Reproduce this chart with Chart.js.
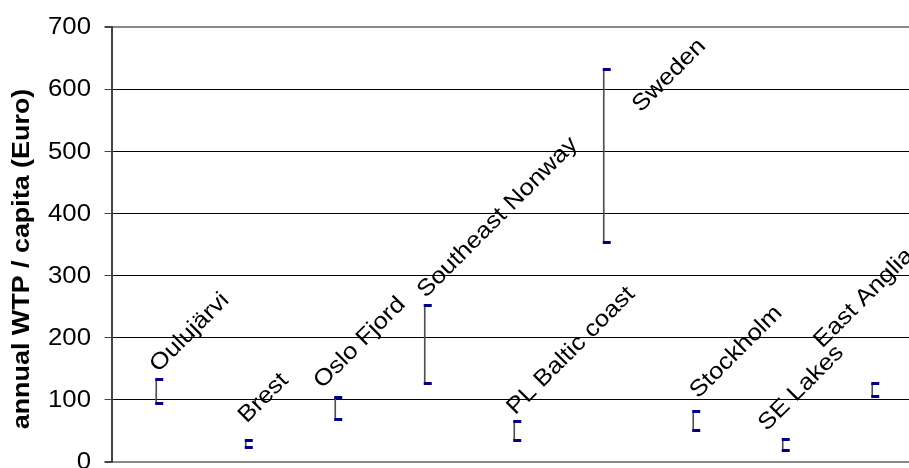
<!DOCTYPE html>
<html lang="en">
<head>
    <meta charset="UTF-8">
    <title>annual WTP / capita</title>
    <script src="https://cdn.jsdelivr.net/npm/chart.js"></script>
    <style>
        html, body { margin: 0; padding: 0; overflow: hidden; background: #fff; }
        #wrap { position: relative; width: 922px; height: 468px; }
    </style>
</head>
<body>
<div id="wrap"><canvas id="wtpChart"></canvas></div>
<script>
    // values (Euro per capita per year)
    const places = ["Oulujärvi", "Brest", "Oslo Fjord", "Southeast Nonway", "PL Baltic coast",
                    "Sweden", "Stockholm", "SE Lakes", "East Anglia"];
    const wtpHigh = [132, 34, 104, 252, 65, 631, 82, 36, 126];
    const wtpLow  = [94, 24, 69, 126, 34, 353, 50, 18, 105];
    const yMin = 0, yMax = 700, yStep = 100;
    const yTitle = "annual WTP / capita (Euro)";

    // label shifts from the top of each range, as placed in the original
    const labelShift = [[2, -7], [1, -17], [-13, -8], [1, -7], [1, -6],
                        [37, 43], [5, -12], [-16, -8], [-50, -35]];

    const FONT = '"Liberation Sans", Arial, sans-serif';
    const STRETCH = 1.12;

    // small end mark sitting to the right of the range line
    const endMark = document.createElement('canvas');
    endMark.width = 18; endMark.height = 3;
    const em = endMark.getContext('2d');
    em.fillStyle = '#000080';
    em.fillRect(8, 0, 8, 3);

    function stretchedText(ctx, text, x, y, angle, font, align, baseline) {
        ctx.save();
        ctx.translate(x, y);
        ctx.rotate(angle);
        ctx.scale(STRETCH, 1);
        ctx.font = font;
        ctx.fillStyle = '#000';
        ctx.textAlign = align;
        ctx.textBaseline = baseline;
        ctx.fillText(text, 0, 0);
        ctx.restore();
    }

    const textPlugin = {
        id: 'texts',
        afterDraw(chart) {
            const ctx = chart.ctx;
            const xs = chart.scales.x, ys = chart.scales.y;
            // y tick labels
            ys.ticks.forEach(t => {
                stretchedText(ctx, String(t.value), 91, ys.getPixelForValue(t.value) + 1, 0,
                              '23px ' + FONT, 'right', 'middle');
            });
            // axis title
            stretchedText(ctx, yTitle, 22, 259, -Math.PI / 2, 'bold 24px ' + FONT, 'center', 'middle');
            // place names
            places.forEach((name, i) => {
                const x = xs.getPixelForValue(i) + labelShift[i][0];
                const y = ys.getPixelForValue(wtpHigh[i]) + labelShift[i][1];
                stretchedText(ctx, name, x, y, -Math.PI / 4, '23px ' + FONT, 'left', 'alphabetic');
            });
        }
    };

    const edge = v => v === yMin || v === yMax;

    new Chart(document.getElementById('wtpChart'), {
        type: 'bar',
        data: {
            labels: places,
            datasets: [
                {
                    type: 'line', data: wtpHigh, showLine: false,
                    pointStyle: endMark, order: 1
                },
                {
                    type: 'line', data: wtpLow, showLine: false,
                    pointStyle: endMark, order: 1
                },
                {
                    data: wtpLow.map((lo, i) => [lo, wtpHigh[i]]),
                    backgroundColor: '#505050', barThickness: 1, borderWidth: 0, order: 2
                }
            ]
        },
        options: {
            responsive: true,
            maintainAspectRatio: false,
            animation: false,
            layout: { padding: { top: 27, bottom: 6, left: 0, right: 0.5 } },
            plugins: { legend: { display: false }, tooltip: { enabled: false } },
            scales: {
                x: { display: false, offset: true },
                y: {
                    min: yMin, max: yMax,
                    ticks: { stepSize: yStep, display: false },
                    afterFit: s => { s.width = 111.5; },
                    border: { color: '#444', width: 2 },
                    grid: {
                        color: c => edge(c.tick.value) ? '#888' : '#000',
                        lineWidth: c => edge(c.tick.value) ? 2 : 1,
                        tickColor: '#444',
                        tickLength: 7,
                        drawTicks: true
                    }
                }
            }
        },
        plugins: [textPlugin]
    });
</script>
</body>
</html>
